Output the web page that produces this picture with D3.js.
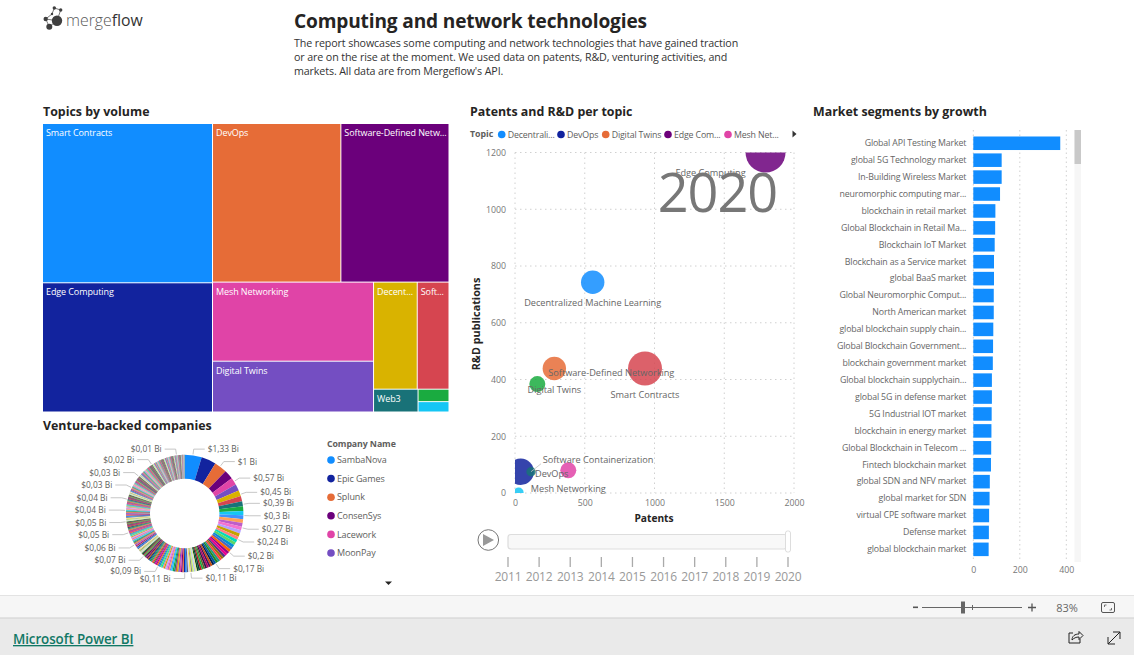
<!DOCTYPE html>
<html><head><meta charset="utf-8">
<script src="https://cdnjs.cloudflare.com/ajax/libs/d3/7.8.5/d3.min.js"></script>
<style>
html,body{margin:0;padding:0;background:#fff;overflow:hidden}
text{font-family:"Open Sans","Noto Sans",sans-serif}
</style></head><body><svg id="c" width="1134" height="655"></svg>
<script>
// ---------- data ----------
const topicNames=["Smart Contracts","Edge Computing","DevOps","Software-Defined Netw...","Mesh Networking","Digital Twins","Decent...","Soft...","Web3","",""];
const topicVolumes=[27000,21900,20300,17100,12700,8160,4664,3392,1012,384,320];
const topicColors=["#118DFF","#12239E","#E66C37","#6B007B","#E044A7","#744EC2","#D9B300","#D64550","#197278","#1AAB40","#15C6F4"];

const palette=["#118DFF","#12239E","#E66C37","#6B007B","#E044A7","#744EC2","#D9B300","#D64550","#197278","#1AAB40","#15C6F4","#4092FF","#FFA058","#BE5DC9","#F472D0","#B5A1FF","#C4A200","#FF8080","#00DBBC","#5BD667","#0091D5","#4668C5","#FF6300","#99008A","#EC008C","#533285","#99700A","#FF4141","#1F9A85","#25891C","#0057A2","#002050","#C94F0F","#450F54","#B60064","#34124F","#6A5A29","#1AAB40","#BA141A","#0C3D37","#0B511F","#E6E6A0","#B8C7F0","#C6F06A","#8A8A8A","#F2E34C","#D8D8F5","#5E5E7A"];
const legendCompanies=["SambaNova","Epic Games","Splunk","ConsenSys","Lacework","MoonPay"];
const valuesHead=[1.33,1.15,1.0,.72,.57,.52,.45,.42,.39,.36,.33,.30,.30,.29,.28,.27,.26,.25,.24,.24,.23,.22,.21,.20,.20,.19,.19,.18,.18,.17,.17];
const valuesMid=[.16,.16,.15,.15,.15,.14,.14,.13,.13,.13,.12,.12,.12,.11,.11,.11,.11,.11,.11,.11,.11,.11,.11,.11,.11,.11,.11,.11,.105,.105,.10,.10,.10,.10,.10,.10,.10,.10,.095,.095,.09,.09,.09,.09,.09,.085,.085,.085,.08,.08,.08,.08,.08,.075,.075,.075,.075,.07,.07];
const valuesLow=[.07,.07,.07,.07,.07,.065,.065,.065,.065,.065,.065,.06,.06,.06,.06,.06,.06,.06,.06,.06,.06,.055,.055,.055,.055,.055,.055,.055,.055,.05,.05,.05,.05,.05,.05,.05,.05,.05,.05,.05,.05,.05,.05,.05,.05,.05,.05,.05,.05,.05,.05,.05,.05,.05,.05,.05,.05,.05,.05,.05,.05,.05,.05,.045,.045,.045,.045,.045,.045,.045,.04,.04,.04,.04,.04,.04,.04];
const valuesSmall=[.04,.04,.04,.04,.04,.04,.04,.04,.04,.04,.04,.04,.04,.04,.04,.04,.04,.04,.04,.04,.04,.04,.04,.04,.04,.04,.04,.04,.04,.04,.04,.035,.035,.035,.035,.035,.035,.035,.035,.035,.03,.03,.03,.03,.03,.03,.03,.03,.03,.03,.03,.03,.03,.03,.03,.03,.03,.03,.03,.03,.03,.03,.03,.03,.03,.03,.03,.03,.03,.03,.03,.03,.03,.03,.03,.03,.03,.03,.03,.03,.03,.03,.03,.03,.03,.03,.03,.03,.03,.03,.03,.03,.03,.03,.03,.03];
const valuesTiny=[.025,.025,.025,.025,.025,.025,.025,.025,.025,.025,.025,.025,.025,.025,.025,.025,.025,.025,.025,.025,.02,.02,.02,.02,.02,.02,.02,.02,.02,.02,.02,.02,.02,.02,.02,.02,.02,.02,.02,.02,.02,.02,.02,.02,.02,.02,.02,.02,.02,.02,.02,.02,.02,.02,.02,.02,.02,.02,.02,.02,.02,.02];
const valuesTail=[.018,.018,.018,.018,.018,.018,.018,.018,.018,.018,.018,.018,.018,.018,.018,.018,.018,.018,.018,.018,.018,.018,.018,.018,.018,.018,.018,.018,.018,.018,.015,.015,.015,.015,.015,.015,.015,.015,.015,.015,.015,.015,.015,.015,.015,.015,.015,.015,.015,.015,.015,.015,.015,.015,.015,.015,.015,.015,.015,.015,.012,.012,.012,.012,.012,.012,.012,.012,.012,.012,.012,.012,.012,.012,.012,.012,.012,.012,.012,.012,.012,.012,.012,.012,.012,.012,.012,.012,.012,.012,.01,.01,.01,.01,.01,.01,.01,.01,.01,.01,.01,.01,.01,.01,.01,.01,.01,.01,.01,.01,.01,.01,.01,.01,.01,.01,.01,.01,.01,.01,.01,.01,.01,.01,.01,.01,.01,.01,.01,.01];
const donutLabels=["$1,33 Bi","$1 Bi","$0,57 Bi","$0,45 Bi","$0,39 Bi","$0,3 Bi","$0,27 Bi","$0,24 Bi","$0,2 Bi","$0,17 Bi","$0,11 Bi","$0,11 Bi","$0,09 Bi","$0,07 Bi","$0,06 Bi","$0,05 Bi","$0,05 Bi","$0,04 Bi","$0,04 Bi","$0,03 Bi","$0,03 Bi","$0,02 Bi","$0,01 Bi"];
const donutLabelAngles=[8,37,57,71,81,92,104,116,131,148,174,180,207,224,238,251,262,273,284,296,309,326,352];

const scatterTopics=["Decentralized Machine Learning","DevOps","Digital Twins","Edge Computing","Mesh Networking","Smart Contracts","Software-Defined Networking","Software Containerization","Web3"];
const scatterPatents=[557,41,282,1796,382,932,160,115,26];
const scatterPublications=[743,75,439,1200,80,439,384,75,2];
const scatterSizes=[137,174,137,400,64,289,64,22,25];
const scatterColors=["#118DFF","#12239E","#E66C37","#6B007B","#E044A7","#D64550","#1AAB40","#197278","#15C6F4"];
const legendTopics=["Decentrali...","DevOps","Digital Twins","Edge Com...","Mesh Net..."];
const legendTopicColors=["#118DFF","#12239E","#E66C37","#6B007B","#E044A7"];
const years=[2011,2012,2013,2014,2015,2016,2017,2018,2019,2020];

const marketNames=["Global API Testing Market","global 5G Technology market","In-Building Wireless Market","neuromorphic computing mar...","blockchain in retail market","Global Blockchain in Retail Ma...","Blockchain IoT Market","Blockchain as a Service market","global BaaS market","Global Neuromorphic Comput...","North American market","global blockchain supply chain...","Global Blockchain Government...","blockchain government market","Global blockchain supplychain...","global 5G in defense market","5G Industrial IOT market","blockchain in energy market","Global Blockchain in Telecom ...","Fintech blockchain market","global SDN and NFV market","global market for SDN","virtual CPE software market","Defense market","global blockchain market"];
const marketGrowth=[374,122,122,115,95,94,92,89,89,88,88,86,85,84,80,80,79,78,77,76,71,70,68,67,66];
const reportLines=["The report showcases some computing and network technologies that have gained traction","or are on the rise at the moment. We used data on patents, R&D, venturing activities, and","markets. All data are from Mergeflow's API."];

// ---------- setup ----------
const svg=d3.select("#c");
const DARK="#252423",GREY="#605e5c";
function txt(x,y,s,size,fill,opts={}){
  const t=svg.append("text").attr("x",x).attr("y",y).attr("font-size",size).attr("fill",fill).text(s);
  if(opts.weight)t.attr("font-weight",opts.weight);
  if(opts.anchor)t.attr("text-anchor",opts.anchor);
  if(opts.ls)t.attr("letter-spacing",opts.ls);
  return t;
}
// logo
const logo=svg.append("g").attr("fill","#3f3f3f").attr("stroke","#3f3f3f");
[[57,20.7,49.3,26.7],[57,20.7,45.7,19],[45.7,19,52,14],[52,14,54.3,8],[54.3,8,60.7,10],[60.7,10,57,20.7],[49.3,26.7,45.7,19]].forEach(l=>logo.append("line").attr("x1",l[0]).attr("y1",l[1]).attr("x2",l[2]).attr("y2",l[3]).attr("stroke-width",.7));
[[57,20.7,5.2],[49.3,26.7,3],[45.7,19,2.2],[54.3,8,1.7],[60.7,10,1.7],[52,14,1.2]].forEach(c=>logo.append("circle").attr("cx",c[0]).attr("cy",c[1]).attr("r",c[2]).attr("stroke","none"));
const lt=txt(66,26,"",15.8,"#595959").attr("font-family","Lato");
lt.append("tspan").attr("font-weight",300).text("merge");lt.append("tspan").attr("fill","#333").text("flow");

txt(294,27.5,"Computing and network technologies",19.1,DARK,{weight:700,ls:-.15});
reportLines.forEach((l,i)=>txt(294,47+14*i,l,10.7,"#333",{ls:-.12}));
txt(43,116,"Topics by volume",12.4,DARK,{weight:700});
txt(43,430,"Venture-backed companies",12.4,DARK,{weight:700});
txt(470,116,"Patents and R&D per topic",12.4,DARK,{weight:700});
txt(813,116,"Market segments by growth",12.4,DARK,{weight:700});

// ---------- treemap ----------
const root=d3.hierarchy({children:topicNames.map((n,i)=>({name:n,value:topicVolumes[i],color:topicColors[i]}))}).sum(d=>d.value||0);
d3.treemap().tile(d3.treemapSquarify.ratio(1.7)).size([405.5,287.5]).paddingInner(1).round(false)(root);
const tm=svg.append("g").attr("transform","translate(43,124)");
const cell=tm.selectAll("g").data(root.leaves()).join("g").attr("transform",d=>`translate(${d.x0},${d.y0})`);
cell.append("rect").attr("width",d=>d.x1-d.x0).attr("height",d=>d.y1-d.y0).attr("fill",d=>d.data.color);
cell.append("text").attr("x",3).attr("y",12).attr("font-size",9).attr("fill","#fff").attr("letter-spacing",-.1).text(d=>d.data.name);

// ---------- donut ----------
const values=[...valuesHead,...valuesMid,...valuesLow,...valuesSmall,...valuesTiny,...valuesTail];
const cx=184.7,cy=513.5,R=58.7,r0=34.7,R2=65;
const pieGen=d3.pie().sort(null).value(d=>d);
const arcGen=d3.arc().innerRadius(r0).outerRadius(R);
const color=d3.scaleOrdinal().domain(d3.range(palette.length)).range(palette);
const donut=svg.append("g").attr("transform",`translate(${cx},${cy})`);
donut.selectAll("path").data(pieGen(values)).join("path").attr("d",arcGen).attr("fill",(d,i)=>color(i%palette.length));
const rad=d3.scaleLinear().domain([0,360]).range([0,2*Math.PI]);
donutLabels.forEach((s,i)=>{
  const deg=donutLabelAngles[i],a=rad(deg),sx=Math.sin(a),cs=-Math.cos(a),side=deg<178?1:-1;
  const x1=(R+1)*sx,y1=(R+1)*cs,x2=R2*sx,y2=R2*cs,x3=x2+side*11;
  donut.append("polyline").attr("points",`${x1},${y1} ${x2},${y2} ${x3},${y2}`).attr("fill","none").attr("stroke","#b8b8b8").attr("stroke-width",.8);
  donut.append("text").attr("x",x3+side*3).attr("y",y2+3).attr("text-anchor",side>0?"start":"end").attr("font-size",8.4).attr("fill",GREY).text(s);
});
// donut legend
txt(327,447,"Company Name",8.8,GREY,{weight:700,ls:-.1});
const legRow=d3.scalePoint().domain(legendCompanies).range([460,553]);
legendCompanies.forEach((n,i)=>{
  svg.append("circle").attr("cx",331).attr("cy",legRow(n)).attr("r",3.8).attr("fill",topicColors[i]);
  txt(337,legRow(n)+3.2,n,9,GREY,{ls:-.1});
});
svg.append("path").attr("d","M385,581.5h7l-3.5,3.5z").attr("fill","#252423");

// ---------- scatter ----------
const xS=d3.scaleLinear().domain([0,2000]).range([515,794]);
const yS=d3.scaleLinear().domain([0,1200]).range([493,152.5]);
const rS=d3.scaleSqrt().domain([0,400]).range([0,20]);
const grid="1.5,3.5",gridC="#d0d0d0";
const sg=svg.append("g");
const xAx=d3.axisBottom(xS).tickValues([0,500,1000,1500,2000]).tickFormat(d3.format("d")).tickSize(0).tickPadding(7);
const yAx=d3.axisLeft(yS).tickValues([0,200,400,600,800,1000,1200]).tickFormat(d3.format("d")).tickSize(0).tickPadding(9);
const gx=sg.append("g").attr("transform","translate(0,493)").call(xAx);
const gy=sg.append("g").attr("transform","translate(515,0)").call(yAx);
[gx,gy].forEach(g=>{g.select(".domain").remove();g.selectAll("text").attr("font-size",8.8).attr("fill","#777").attr("font-family",'"Open Sans"');});
sg.append("g").selectAll("line").data(xS.ticks(4)).join("line").attr("x1",d=>xS(d)).attr("x2",d=>xS(d)).attr("y1",152.5).attr("y2",493).attr("stroke",gridC).attr("stroke-dasharray",grid);
sg.append("g").selectAll("line").data(yAx.tickValues()).join("line").attr("y1",d=>yS(d)).attr("y2",d=>yS(d)).attr("x1",515).attr("x2",794).attr("stroke",gridC).attr("stroke-dasharray",grid);
svg.append("clipPath").attr("id","plot").append("rect").attr("x",515).attr("y",152.5).attr("width",281).attr("height",340.5);
sg.append("g").attr("clip-path","url(#plot)").selectAll("circle").data(scatterTopics).join("circle")
 .attr("cx",(d,i)=>xS(scatterPatents[i])).attr("cy",(d,i)=>yS(scatterPublications[i])).attr("r",(d,i)=>rS(scatterSizes[i]))
 .attr("fill",(d,i)=>scatterColors[i]).attr("fill-opacity",.85);
// leader for Software Containerization
sg.append("line").attr("x1",xS(115)).attr("y1",yS(75)).attr("x2",xS(115)+10).attr("y2",yS(75)-8).attr("stroke","#c0c0c0").attr("stroke-width",.8);
const labelOffsets={"Decentralized Machine Learning":[0,21],"DevOps":[31,2],"Digital Twins":[0,21],"Edge Computing":[-55,20],"Mesh Networking":[0,18],"Smart Contracts":[0,26],"Software-Defined Networking":[74,-11],"Software Containerization":[67,-12]};
scatterTopics.forEach((t,i)=>{const o=labelOffsets[t];if(!o)return;
  sg.append("text").attr("x",xS(scatterPatents[i])+o[0]).attr("y",yS(scatterPublications[i])+o[1]+3.2).attr("text-anchor","middle").attr("font-size",9.2).attr("fill","#666").attr("letter-spacing",-.02).text(t);});
txt(717.5,212,"2020",54,"#777",{anchor:"middle",ls:-1});
txt(0,0,"R&D publications",10.8,"#252423",{weight:700,anchor:"middle"}).attr("transform","translate(480,324) rotate(-90)");
txt(654,521.5,"Patents",10.2,"#252423",{weight:700,anchor:"middle"});
// topic legend
txt(470,137.3,"Topic",8.8,GREY,{weight:700});
const legX=[501.7,561,605.7,668,728];
legendTopics.forEach((n,i)=>{svg.append("circle").attr("cx",legX[i]).attr("cy",134.5).attr("r",3.8).attr("fill",legendTopicColors[i]);txt(legX[i]+6,137.5,n,8.8,GREY,{ls:-.15});});
svg.append("path").attr("d","M792.5,130.5l4,3.5l-4,3.5z").attr("fill","#333");
// play axis
const yr=d3.scalePoint().domain(years).range([508,788]);
svg.append("circle").attr("cx",488.3).attr("cy",540).attr("r",10.3).attr("fill","#fff").attr("stroke","#777");
svg.append("path").attr("d","M483,534l11,6l-11,6z").attr("fill","#999");
svg.append("rect").attr("x",508).attr("y",534.5).attr("width",279).attr("height",14.5).attr("rx",3).attr("fill","#f8f8f8").attr("stroke","#ddd").attr("stroke-width",1.2);
svg.append("rect").attr("x",785.5).attr("y",531).attr("width",5).attr("height",21).attr("rx",2).attr("fill","#fff").attr("stroke","#ddd");
years.forEach(y=>{svg.append("line").attr("x1",yr(y)).attr("x2",yr(y)).attr("y1",557).attr("y2",567).attr("stroke","#aaa").attr("stroke-width",1.3);
 txt(yr(y),581,y,12,"#999",{anchor:"middle",ls:-.2});});

// ---------- bars ----------
const bx=d3.scaleLinear().domain([0,400]).range([973.3,1066.3]);
const by=d3.scaleBand().domain(marketNames).range([134.8,557.8]).paddingInner(.2).paddingOuter(.1);
svg.append("g").selectAll("line").data([0,200,400]).join("line").attr("x1",d=>bx(d)).attr("x2",d=>bx(d)).attr("y1",130).attr("y2",561).attr("stroke",gridC).attr("stroke-dasharray","1.5,3");
svg.append("g").selectAll("rect").data(marketNames).join("rect").attr("x",bx(0)).attr("y",d=>by(d)).attr("height",by.bandwidth())
 .attr("width",(d,i)=>bx(marketGrowth[i])-bx(0)).attr("fill","#118DFF");
const byAx=d3.axisLeft(by).tickSize(0).tickPadding(7);
const gby=svg.append("g").attr("transform","translate(973.3,0)").call(byAx);
gby.select(".domain").remove();gby.selectAll("text").attr("font-size",8.8).attr("fill","#666").attr("letter-spacing",-.14).attr("font-family",'"Open Sans"');
const bxAx=d3.axisBottom(bx).tickValues([0,200,400]).tickSize(0).tickPadding(6);
const gbx=svg.append("g").attr("transform","translate(0,561)").call(bxAx);
gbx.select(".domain").remove();gbx.selectAll("text").attr("font-size",8.8).attr("fill","#777").attr("font-family",'"Open Sans"');
svg.append("rect").attr("x",1074.5).attr("y",130).attr("width",6.5).attr("height",432).attr("fill","#f6f6f6");
svg.append("rect").attr("x",1074.5).attr("y",130).attr("width",6.5).attr("height",34).attr("fill","#c9c9c9");

// ---------- page chrome ----------
svg.append("rect").attr("x",0).attr("y",596).attr("width",1134).attr("height",22).attr("fill","#f6f6f6");
svg.append("line").attr("x1",0).attr("x2",1134).attr("y1",595.5).attr("y2",595.5).attr("stroke","#e3e3e3");
svg.append("rect").attr("x",0).attr("y",618).attr("width",1134).attr("height",37).attr("fill","#eaeaea");
svg.append("line").attr("x1",0).attr("x2",1134).attr("y1",618).attr("y2",618).attr("stroke","#cfcfcf");
svg.append("rect").attr("x",913).attr("y",606.5).attr("width",5).attr("height",1.6).attr("fill","#555");
svg.append("line").attr("x1",922).attr("x2",1022).attr("y1",607.5).attr("y2",607.5).attr("stroke","#666");
svg.append("rect").attr("x",961).attr("y",601.5).attr("width",4).attr("height",12).attr("fill","#666");
svg.append("line").attr("x1",972.5).attr("x2",972.5).attr("y1",605).attr("y2",610).attr("stroke","#666");
svg.append("path").attr("d","M1028,607.5h8M1032,603.5v8").attr("stroke","#555").attr("stroke-width",1.3);
txt(1067,611.5,"83%",11,"#666",{anchor:"middle"});
svg.append("rect").attr("x",1101.5).attr("y",602.5).attr("width",13).attr("height",10).attr("rx",1.5).attr("fill","none").attr("stroke","#555");
svg.append("path").attr("d","M1104.5,607v-2h2M1111.5,608v2h-2").attr("fill","none").attr("stroke","#555").attr("stroke-width",.8);
txt(13,644,"Microsoft Power BI",13.4,"#117865",{weight:600,ls:-.1}).attr("text-decoration","underline");
svg.append("path").attr("d","M1073,633h-4v10h11v-4M1072,640c0,-4 3,-6 7,-6v-2.5l4,4l-4,4v-2.5c-3,0 -5,1 -7,3z").attr("fill","none").attr("stroke","#222").attr("stroke-width",1);
svg.append("path").attr("d","M1108,644l12,-12M1113,632h7v7M1108,637v7h7").attr("fill","none").attr("stroke","#222").attr("stroke-width",1);
</script></body></html>
